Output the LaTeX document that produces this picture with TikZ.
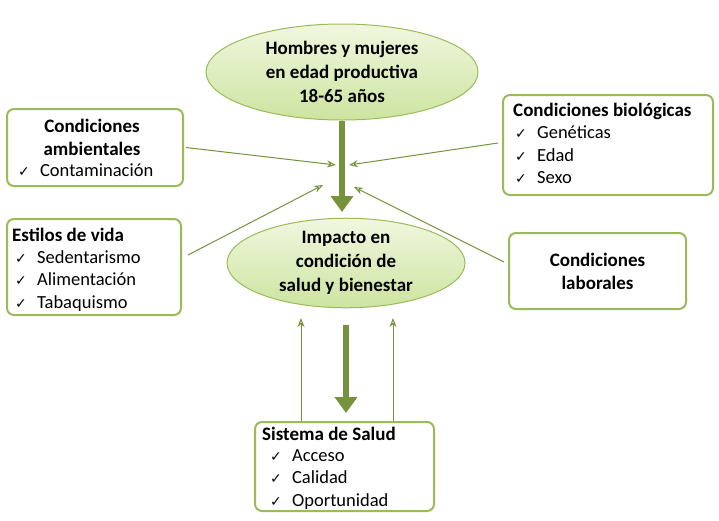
\documentclass[tikz,border=0pt]{standalone}
\usepackage{fontspec}
\setmainfont{Carlito}
\newfontfamily\dejavu{DejaVu Sans}
\usetikzlibrary{shapes.geometric,arrows.meta}
\definecolor{gborder}{HTML}{9BBB59}
\definecolor{garrow}{HTML}{76923C}
\definecolor{glight}{HTML}{F0F7DF}
\definecolor{gmid}{HTML}{CDE4A0}
\newcommand{\ck}{{\dejavu\fontsize{14}{14}\selectfont ✓}\hspace{0.55em}}
\tikzset{
 ell/.style={ellipse, draw=gborder, line width=1pt, top color=glight, bottom color=gmid, font=\bfseries\fontsize{19}{24}\selectfont, align=center, inner sep=0pt},
 box/.style={draw=gborder, line width=2pt, rounded corners=7pt, fill=white, inner sep=0pt},
 hd/.style={font=\bfseries\fontsize{19}{23}\selectfont, align=center},
 items/.style={anchor=north west, font=\fontsize{18.5}{22.5}\selectfont, align=left, inner sep=0pt},
 thick arr/.style={garrow, line width=6pt, -{Triangle[length=16pt,width=22pt]}},
 thin arr/.style={garrow, line width=1pt, -{Stealth[length=9pt,width=7pt,open]}},
}
\begin{document}
\begin{tikzpicture}[x=1pt,y=-1pt]
\useasboundingbox (0,0) rectangle (719,520);
\node[ell, minimum width=272, minimum height=96] (top) at (342,72) {Hombres y mujeres\\en edad productiva\\18-65 años};
\node[ell, minimum width=238, minimum height=84] (mid) at (346,263) {Impacto en\\condición de\\salud y bienestar};
\node[box, minimum width=176, minimum height=77] (amb) at (95,147.5) {};
\node[hd] at (92,137) {Condiciones\\ambientales};
\node[items, anchor=west] at (18,170) {\ck Contaminación};
\node[box, minimum width=174, minimum height=96] (est) at (94,267) {};
\node[hd, anchor=west, inner sep=0pt] at (12,235) {Estilos de vida};
\node[items] at (15,250) {\ck Sedentarismo\\\ck Alimentación\\\ck Tabaquismo};
\node[box, minimum width=210, minimum height=100] (bio) at (608,145) {};
\node[hd, anchor=west, inner sep=0pt] at (513,111) {Condiciones biológicas};
\node[items] at (515,126) {\ck Genéticas\\\ck Edad\\\ck Sexo};
\node[box, minimum width=177, minimum height=76, hd] (lab) at (597.5,271) {Condiciones\\laborales};
\node[box, minimum width=179, minimum height=89] (sal) at (344.5,466.5) {};
\node[hd, anchor=west, inner sep=0pt] at (262,434) {Sistema de Salud};
\node[items] at (270,449) {\ck Acceso\\\ck Calidad\\\ck Oportunidad};
\coordinate (t1) at (342,212);
\coordinate (b1) at (346,325);
\coordinate (b2) at (346,413);
\coordinate (ca) at (336,165);
\coordinate (cb) at (349,165);
\coordinate (ce) at (323,185);
\coordinate (cl) at (354,187);
\coordinate (u1) at (301,318);
\coordinate (u2) at (393,318);
\draw[thick arr] (top.south) -- (t1);
\draw[thick arr] (b1) -- (b2);
\draw[thin arr] (amb.east) ++(2,0) -- (ca);
\draw[thin arr] (bio.west) ++(-4,-2) -- (cb);
\draw[thin arr] (est.east) ++(6,-12) -- (ce);
\draw[thin arr] (lab.west) ++(-4,-9) -- (cl);
\draw[thin arr] (sal.north -| u1) -- (u1);
\draw[thin arr] (sal.north -| u2) -- (u2);
\end{tikzpicture}
\end{document}
